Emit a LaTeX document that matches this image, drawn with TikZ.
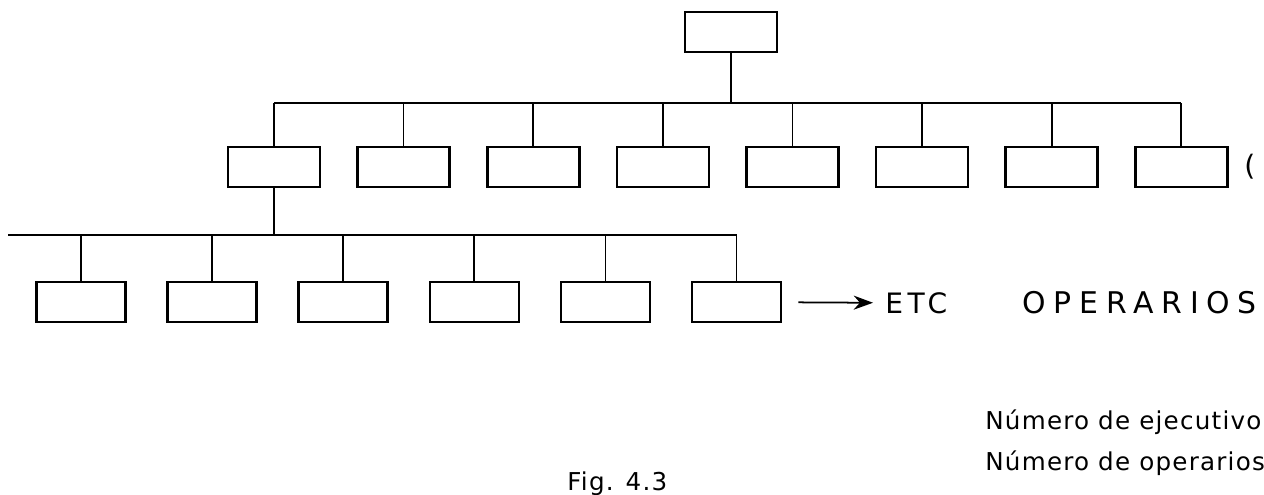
\documentclass[tikz,border=0pt]{standalone}
\usepackage{fontspec}
\usetikzlibrary{positioning,arrows.meta}
\newfontfamily\letras[LetterSpace=16]{DejaVu Sans}
\newfontfamily\letrasanchas[LetterSpace=26]{DejaVu Sans}
\newfontfamily\rotulo[LetterSpace=5]{DejaVu Sans}

\begin{document}
\begin{tikzpicture}[x=0.02cm, y=-0.02cm,
  caja/.style={draw, line width=1.5pt, minimum width=1.84cm,
               minimum height=0.80cm, inner sep=0pt},
  cajab/.style={caja, minimum width=1.78cm},
  con/.style={line width=1pt},
  arr/.style={-{Stealth[length=11pt,width=8pt]}, line width=1pt},
  txt/.style={font=\letras\fontsize{16}{19}\selectfont, inner sep=0pt},
  txtancho/.style={font=\letrasanchas\fontsize{17}{20}\selectfont, inner sep=0pt},
  nota/.style={font=\rotulo\fontsize{14}{17}\selectfont, inner sep=0pt,
                anchor=west},
  node distance=0.70cm
]
\useasboundingbox (0,0) rectangle (1264,494);
% jefe
\node[caja] (jefe) at (731,32) {};
% ejecutivos
\node[caja] (m1) at (274,167) {};
\node[caja] (m2) [right=of m1] {};
\node[caja] (m3) [right=of m2] {};
\node[caja] (m4) [right=of m3] {};
\node[caja] (m5) [right=of m4] {};
\node[caja] (m6) [right=of m5] {};
\node[caja] (m7) [right=of m6] {};
\node[caja] (m8) [right=of m7] {};
% operarios
\node[cajab] (b1) at (81,302) {};
\node[cajab] (b2) [right=0.79cm of b1] {};
\node[cajab] (b3) [right=0.79cm of b2] {};
\node[cajab] (b4) [right=0.79cm of b3] {};
\node[cajab] (b5) [right=0.79cm of b4] {};
\node[cajab] (b6) [right=0.79cm of b5] {};
\coordinate (bus1) at (0,103);
\coordinate (bus2) at (8,235);
\draw[con] (jefe) -- (jefe |- bus1);
\draw[con] (m1.north |- bus1) -- (m8.north |- bus1);
\draw[con] (m1) -- (m1 |- bus1); \draw[con] (m2) -- (m2 |- bus1);
\draw[con] (m3) -- (m3 |- bus1); \draw[con] (m4) -- (m4 |- bus1);
\draw[con] (m5) -- (m5 |- bus1); \draw[con] (m6) -- (m6 |- bus1);
\draw[con] (m7) -- (m7 |- bus1); \draw[con] (m8) -- (m8 |- bus1);
\draw[con] (m1.south) -- (m1 |- bus2);
\draw[con] (bus2) -- (b6 |- bus2);
\draw[con] (b1) -- (b1 |- bus2); \draw[con] (b2) -- (b2 |- bus2);
\draw[con] (b3) -- (b3 |- bus2); \draw[con] (b4) -- (b4 |- bus2);
\draw[con] (b5) -- (b5 |- bus2); \draw[con] (b6) -- (b6 |- bus2);
% textos
\node[txt, anchor=west] (etc) at (885,303) {ETC};
\draw[arr, shorten <=0.32cm, shorten >=0.24cm] (b6) -- (etc);
\node[txtancho, anchor=west] (oper) at (1022,303) {OPERARIOS};
\node[txt, anchor=west] (paren) at (1244,167) {(};
\node[nota] (ejec) at (985,422) {Número de ejecutivo};
\node[nota] (nope) at (985,463) {Número de operarios};
\node[nota] (fig) at (567,484) {Fig. 4.3};
\end{tikzpicture}
\end{document}
